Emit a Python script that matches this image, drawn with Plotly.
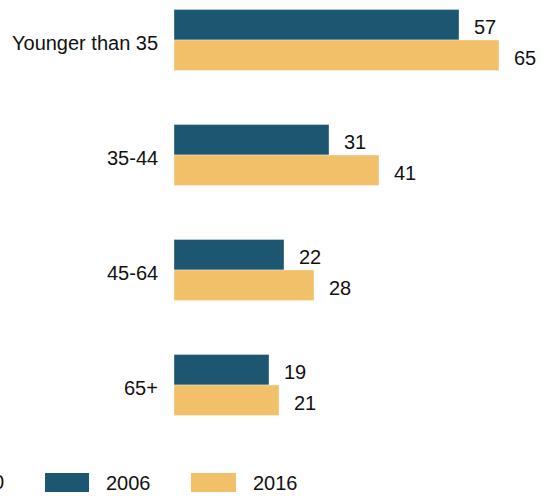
import plotly.graph_objects as go

# Age groups (top to bottom) and shares for each survey year
age_groups = ["Younger than 35", "35-44", "45-64", "65+"]
values_2006 = [57, 31, 22, 19]
values_2016 = [65, 41, 28, 21]
years = ["2006", "2016"]

COLOR_2006 = "#1d5671"
COLOR_2016 = "#f1c069"
FONT = "Liberation Sans, Arial, sans-serif"
TEXT = "#111111"

W, H = 551, 496
ML, MR, MT, MB = 174, 10, 0, 56
PW, PH = W - ML - MR, H - MT - MB


def px_x(px):
    return (px - ML) / PW


def px_y(py):
    return (PH - (py - MT)) / PH


fig = go.Figure()
for name, vals, color in [(years[0], values_2006, COLOR_2006),
                          (years[1], values_2016, COLOR_2016)]:
    fig.add_trace(go.Bar(
        y=age_groups, x=vals, name=name, orientation="h",
        marker=dict(color=color, line=dict(color="rgba(255,255,255,0.6)", width=0.6)),
        showlegend=False, hoverinfo="x+y",
    ))

annotations = []
# Category labels, right-aligned left of the bars
for i, cat in enumerate(age_groups):
    annotations.append(dict(
        x=0, y=i, xref="x", yref="y", text=cat, showarrow=False,
        xanchor="right", yanchor="middle", xshift=-14, yshift=-3,
        font=dict(family=FONT, size=20, color=TEXT),
    ))

# Value labels to the right of each bar
for i, cat in enumerate(age_groups):
    for vals, off in [(values_2006, -0.135), (values_2016, 0.135)]:
        annotations.append(dict(
            x=vals[i], y=i + off, xref="x", yref="y", text=str(vals[i]),
            showarrow=False, xanchor="left", yanchor="middle", xshift=13, yshift=-2,
            font=dict(family=FONT, size=20, color=TEXT),
        ))

# Legend drawn below the bars
shapes = []
for (x0, x1), color, label, tx in [((45, 89), COLOR_2006, years[0], 104),
                                    ((191, 236), COLOR_2016, years[1], 251)]:
    shapes.append(dict(type="rect", xref="paper", yref="paper",
                       x0=px_x(x0), x1=px_x(x1), y0=px_y(492), y1=px_y(473),
                       fillcolor=color, line=dict(width=0)))
    annotations.append(dict(x=px_x(tx), y=px_y(483), xref="paper", yref="paper",
                            text=label, showarrow=False, xanchor="left", yanchor="middle",
                            font=dict(family=FONT, size=20, color=TEXT)))
annotations.append(dict(x=px_x(6), y=px_y(482), xref="paper", yref="paper",
                        text="0", showarrow=False, xanchor="right", yanchor="middle",
                        font=dict(family=FONT, size=20, color=TEXT)))

fig.update_layout(
    width=W, height=H,
    margin=dict(l=ML, r=MR, t=MT, b=MB, pad=0),
    paper_bgcolor="white", plot_bgcolor="white",
    barmode="group", bargap=0.47, bargroupgap=0,
    xaxis=dict(range=[0, PW / 5.0], visible=False, fixedrange=True),
    yaxis=dict(range=[3.478, -0.348], showgrid=False, zeroline=False, showline=False,
               showticklabels=False, ticks=""),
    shapes=shapes, annotations=annotations,
    font=dict(family=FONT),
)

fig.write_html("out.html")
